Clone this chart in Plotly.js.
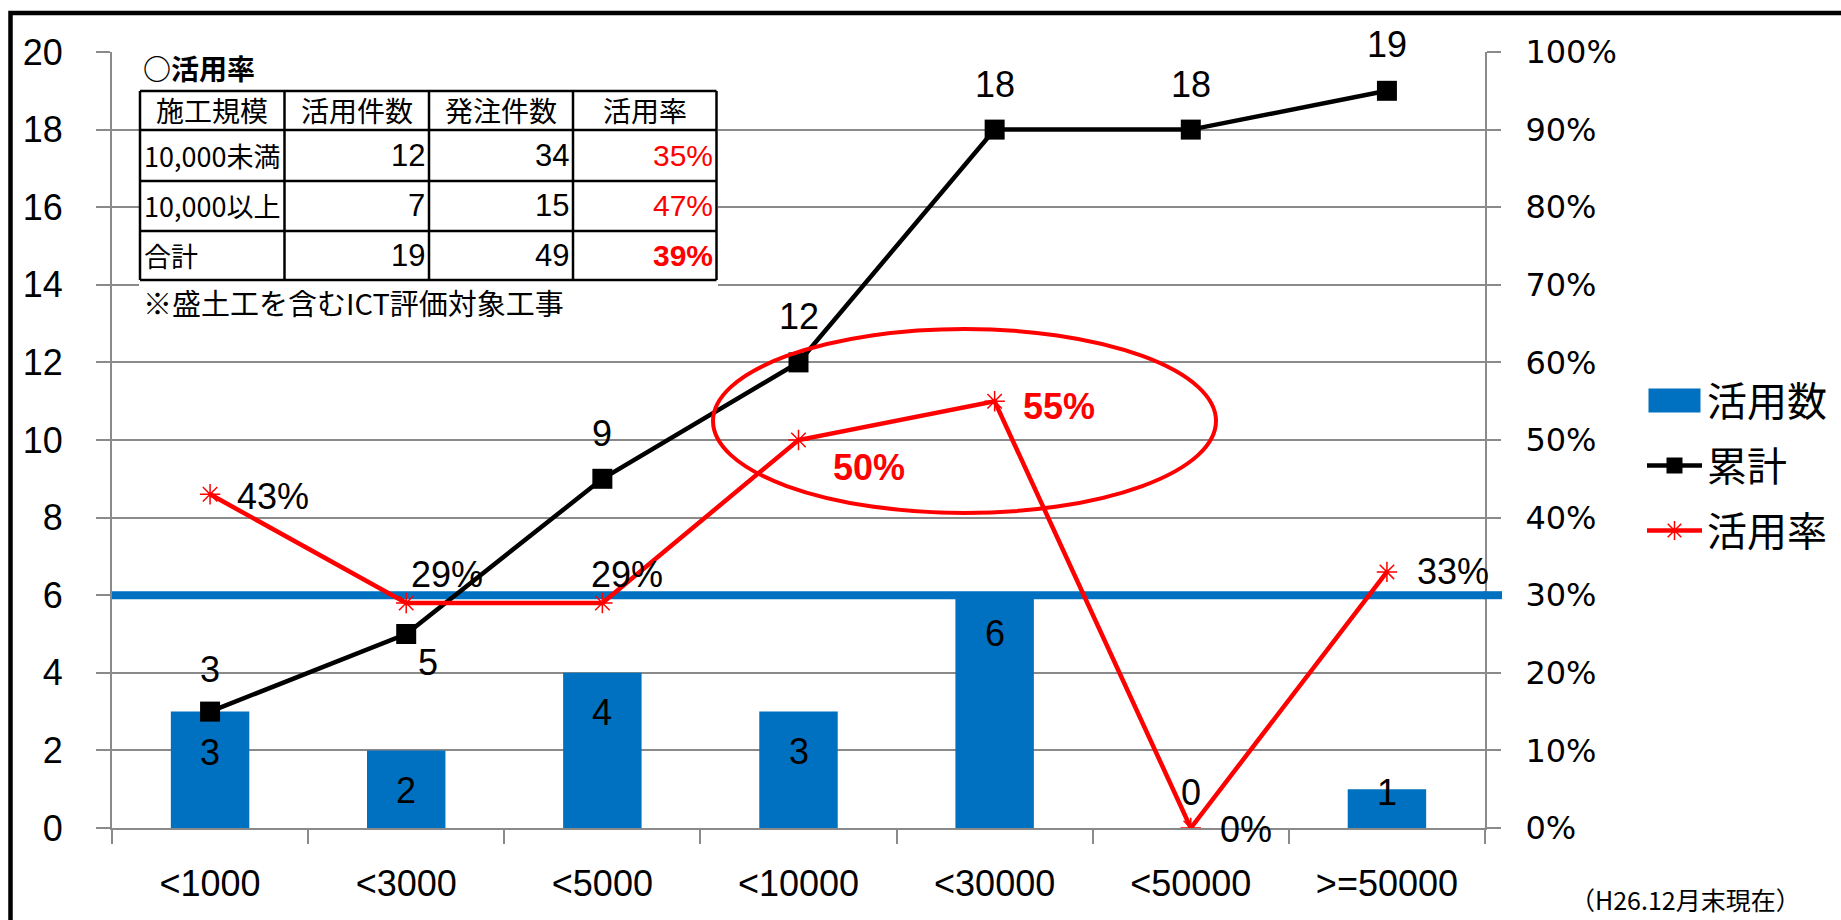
<!DOCTYPE html>
<html>
<head>
<meta charset="utf-8">
<script src="https://cdn.plot.ly/plotly-3.0.1.min.js"></script>
<style>
  html, body { margin: 0; padding: 0; background: #ffffff; }
  #chart { width: 1841px; height: 920px; }
</style>
</head>
<body>
<div id="chart"></div>
<script>
// ---- data ----
const categories = ['<1000', '<3000', '<5000', '<10000', '<30000', '<50000', '>=50000'];
const usedCount  = [3, 2, 4, 3, 6, 0, 1];
const cumulative = [3, 5, 9, 12, 18, 18, 19];
const usageRate  = [0.43, 0.29, 0.29, 0.50, 0.55, 0.00, 0.33];
const targetLevel = 6;

const tableHead    = ['施工規模', '活用件数', '発注件数', '活用率'];
const tableScale   = ['10,000未満', '10,000以上', '合計'];
const tableUsed    = [12, 7, 19];
const tableOrdered = [34, 15, 49];

// ---- look ----
const BLUE = '#0070C0';
const RED = '#FF0000';
const GRID = '#8a8a8a';
const NUM_FONT = '"Liberation Sans", Arial, sans-serif';
const CJK_FONT = '"Noto Sans CJK JP", "Noto Sans", sans-serif';
const AXIS2_FONT = '"DejaVu Sans", sans-serif';

const W = 1841, H = 920;
const M = { l: 112, r: 356, t: 52, b: 92, autoexpand: false };
const PW = W - M.l - M.r, PH = H - M.t - M.b;
// pixel position on the page -> paper fraction
const px = x => (x - M.l) / PW;
const py = y => (H - M.b - y) / PH;

// label offsets (pixels) around each point
const barLabelShift  = [-41, -40, -40, -40, -38, 36, -3];
const cumLabelShiftX = [0, 22, 0, 0, 0, 0, 0];
const cumLabelShiftY = [42, -28, 45, 46, 45, 45, 46];
const rateLabelShiftX = [25, 3, -13, 32, 26, 27, 28];
const rateLabelShiftY = [-2, 28, 28, -27, -5, -1, 0];
const rateLabelEmph   = [false, false, false, true, true, false, false];

// ---- traces ----
const traces = [
  {
    type: 'bar', name: '活用数', x: categories, y: usedCount,
    marker: { color: BLUE }, legendgroup: 'g1', hoverinfo: 'skip'
  },
  {
    type: 'scatter', mode: 'lines+markers', name: '累計', x: categories, y: cumulative,
    line: { color: '#000000', width: 4.5 },
    marker: { symbol: 'square', size: 20, color: '#000000' },
    legendgroup: 'g2', hoverinfo: 'skip'
  },
  {
    type: 'scatter', mode: 'lines+markers', name: '活用率', x: categories, y: usageRate, yaxis: 'y2',
    line: { color: RED, width: 4.5 },
    marker: { symbol: 'asterisk-open', size: 17, color: RED, line: { color: RED, width: 1.5 } },
    legendgroup: 'g3', hoverinfo: 'skip'
  }
];

// ---- annotations ----
const annotations = [];
const numFont = (size, color, bold) => ({ family: NUM_FONT, size: size, color: color || '#000000', weight: bold ? 'bold' : 'normal' });

usedCount.forEach((v, i) => annotations.push({
  x: categories[i], y: v, xref: 'x', yref: 'y', text: String(v), showarrow: false,
  xanchor: 'center', yanchor: 'middle', yshift: barLabelShift[i], font: numFont(36)
}));
cumulative.forEach((v, i) => annotations.push({
  x: categories[i], y: v, xref: 'x', yref: 'y', text: String(v), showarrow: false,
  xanchor: 'center', yanchor: 'middle', xshift: cumLabelShiftX[i], yshift: cumLabelShiftY[i], font: numFont(36)
}));
usageRate.forEach((v, i) => annotations.push({
  x: categories[i], y: v, xref: 'x', yref: 'y2', text: Math.round(v * 100) + '%', showarrow: false,
  xanchor: 'left', yanchor: 'middle', xshift: rateLabelShiftX[i], yshift: rateLabelShiftY[i],
  font: rateLabelEmph[i] ? numFont(36, RED, true) : numFont(36)
}));

// summary table drawn in the upper-left corner of the plot
const colEdges = [140, 284.5, 429, 573, 716.5];
const rowEdges = [91, 130, 181, 231, 280];
const cellMidY = r => (rowEdges[r] + rowEdges[r + 1]) / 2;

annotations.push({
  xref: 'paper', yref: 'paper', x: px(141), y: py(68), xanchor: 'left', yanchor: 'middle',
  text: '○活用率', showarrow: false, font: { family: CJK_FONT, size: 28, color: '#000', weight: 'bold' }
});
tableHead.forEach((t, c) => annotations.push({
  xref: 'paper', yref: 'paper', x: px((colEdges[c] + colEdges[c + 1]) / 2), y: py(cellMidY(0)),
  xanchor: 'center', yanchor: 'middle', text: t, showarrow: false,
  font: { family: CJK_FONT, size: 28, color: '#000' }
}));
tableScale.forEach((t, r) => {
  const yy = py(cellMidY(r + 1));
  const rate = Math.round(100 * tableUsed[r] / tableOrdered[r]) + '%';
  annotations.push(
    { xref: 'paper', yref: 'paper', x: px(colEdges[0] + 2), y: yy, xanchor: 'left', yanchor: 'middle',
      text: t, showarrow: false, font: { family: CJK_FONT, size: 27, color: '#000' } },
    { xref: 'paper', yref: 'paper', x: px(colEdges[2] - 2), y: yy, xanchor: 'right', yanchor: 'middle',
      text: String(tableUsed[r]), showarrow: false, font: numFont(31) },
    { xref: 'paper', yref: 'paper', x: px(colEdges[3] - 2), y: yy, xanchor: 'right', yanchor: 'middle',
      text: String(tableOrdered[r]), showarrow: false, font: numFont(31) },
    { xref: 'paper', yref: 'paper', x: px(colEdges[4] - 2), y: yy, xanchor: 'right', yanchor: 'middle',
      text: rate, showarrow: false, font: numFont(30, RED, r === tableScale.length - 1) }
  );
});
annotations.push({
  xref: 'paper', yref: 'paper', x: px(141), y: py(302), xanchor: 'left', yanchor: 'middle',
  text: '※盛土工を含むICT評価対象工事', showarrow: false, font: { family: CJK_FONT, size: 29, color: '#000' }
});
annotations.push({
  xref: 'paper', yref: 'paper', x: px(1803), y: py(899), xanchor: 'right', yanchor: 'middle',
  text: '（H26.12月末現在）', showarrow: false, font: { family: CJK_FONT, size: 25, color: '#000' }
});

// ---- shapes ----
const shapes = [
  // outer frame
  { type: 'rect', xref: 'paper', yref: 'paper', x0: px(10.5), x1: px(1860), y0: py(13), y1: py(940),
    line: { color: '#000000', width: 4.5 }, fillcolor: 'rgba(0,0,0,0)', layer: 'above' },
  // reference level line across the categories (above the grid, below the series)
  { type: 'line', xref: 'x', yref: 'y', x0: -0.5, x1: categories.length - 0.5, y0: targetLevel, y1: targetLevel,
    line: { color: BLUE, width: 8 }, layer: 'between' },
  // its short run past the right axis
  { type: 'line', xref: 'paper', yref: 'y', x0: 0.999, x1: px(1502), y0: targetLevel, y1: targetLevel,
    line: { color: BLUE, width: 8 }, layer: 'above' },
  // highlight ellipse
  { type: 'circle', xref: 'paper', yref: 'paper', x0: px(713), x1: px(1216), y0: py(513), y1: py(329),
    line: { color: RED, width: 4 }, fillcolor: 'rgba(0,0,0,0)', layer: 'above' },
  // table background
  { type: 'rect', xref: 'paper', yref: 'paper', x0: px(139), x1: px(718), y0: py(40), y1: py(318),
    line: { width: 0 }, fillcolor: '#ffffff', layer: 'above' }
];
rowEdges.forEach(y => shapes.push({
  type: 'line', xref: 'paper', yref: 'paper', x0: px(colEdges[0]), x1: px(colEdges[colEdges.length - 1]),
  y0: py(y), y1: py(y), line: { color: '#000000', width: 2.5 }, layer: 'above'
}));
colEdges.forEach(x => shapes.push({
  type: 'line', xref: 'paper', yref: 'paper', x0: px(x), x1: px(x),
  y0: py(rowEdges[0]), y1: py(rowEdges[rowEdges.length - 1]), line: { color: '#000000', width: 2.5 }, layer: 'above'
}));

// ---- layout ----
const layout = {
  width: W, height: H,
  margin: M,
  paper_bgcolor: '#ffffff', plot_bgcolor: '#ffffff',
  bargap: 0.6,
  showlegend: true,
  legend: {
    x: px(1642), y: py(368), xanchor: 'left', yanchor: 'top',
    font: { family: CJK_FONT, size: 40, color: '#000' },
    itemwidth: 55, tracegroupgap: 10, bgcolor: 'rgba(0,0,0,0)'
  },
  xaxis: {
    type: 'category', range: [-0.5, 6.5], tickson: 'boundaries',
    ticks: 'outside', ticklen: 14, tickwidth: 2, tickcolor: GRID,
    showline: true, linecolor: GRID, linewidth: 2, showgrid: false, zeroline: false,
    tickfont: { family: NUM_FONT, size: 36, color: '#000' }, ticklabelstandoff: 23
  },
  yaxis: {
    range: [0, 20], dtick: 2, tick0: 0,
    ticks: 'outside', ticklen: 14, tickwidth: 2, tickcolor: GRID,
    showline: true, linecolor: GRID, linewidth: 2,
    showgrid: true, gridcolor: GRID, gridwidth: 2, zeroline: false,
    tickfont: { family: NUM_FONT, size: 36, color: '#000' }, ticklabelstandoff: 26
  },
  yaxis2: {
    overlaying: 'y', side: 'right', range: [0, 1], dtick: 0.1, tick0: 0, tickformat: '.0%',
    ticks: 'outside', ticklen: 14, tickwidth: 2, tickcolor: GRID,
    showline: true, linecolor: GRID, linewidth: 2, showgrid: false, zeroline: false,
    tickfont: { family: AXIS2_FONT, size: 32, color: '#000' }, ticklabelstandoff: 18
  },
  annotations: annotations,
  shapes: shapes
};

// wider swatch for the bar entry of the legend
function widenBarSwatch(gd) {
  gd.querySelectorAll('.legend .legendpoints path').forEach(p => {
    const d = (p.getAttribute('d') || '').replace(/\s/g, '');
    if (p.classList.contains('legendbar') || d === 'M6,6H-6V-6H6Z') {
      p.setAttribute('d', 'M26,12H-26V-12H26Z');
    }
  });
}

Plotly.newPlot('chart', traces, layout, { displayModeBar: false, staticPlot: true }).then(gd => {
  widenBarSwatch(gd);
  setTimeout(() => widenBarSwatch(gd), 50);
});
</script>
</body>
</html>
